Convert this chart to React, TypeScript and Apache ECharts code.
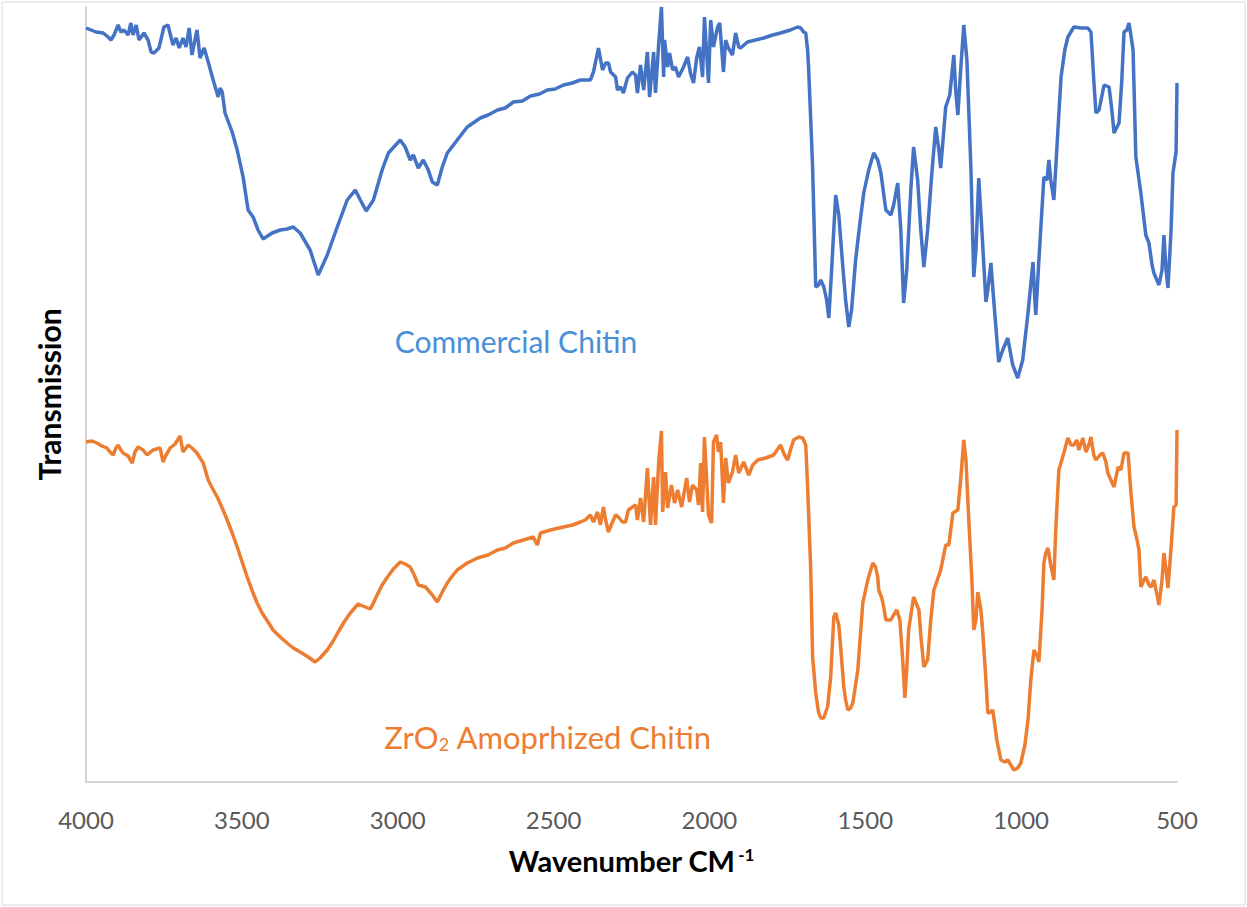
import React, { useEffect, useRef } from "react";
import * as echarts from "echarts";

// Wavenumber (cm-1), transmission (a.u.) pairs
const commercialChitin: [number, number][] = [
  [4000, 75.4], [3968, 75.0], [3945, 74.9], [3929, 74.5], [3920, 74.2], [3910, 74.7], [3897, 75.7], [3888, 75.0],
  [3878, 75.2], [3865, 74.7], [3856, 75.9], [3849, 74.7], [3839, 75.7], [3830, 74.2], [3814, 74.9], [3801, 74.2],
  [3791, 73.0], [3782, 72.9], [3766, 73.4], [3750, 75.5], [3737, 75.7], [3721, 73.7], [3711, 74.4], [3701, 73.4],
  [3689, 74.4], [3679, 73.5], [3669, 75.4], [3660, 72.7], [3644, 75.2], [3634, 72.4], [3621, 73.4], [3608, 72.0],
  [3592, 70.2], [3576, 68.5], [3570, 69.4], [3563, 69.0], [3554, 66.9], [3531, 65.0], [3515, 63.2], [3496, 60.5],
  [3480, 57.2], [3464, 56.5], [3448, 55.2], [3432, 54.3], [3403, 54.9], [3377, 55.2], [3355, 55.3], [3335, 55.5],
  [3313, 54.9], [3281, 53.2], [3255, 50.7], [3226, 52.7], [3194, 55.5], [3162, 58.2], [3136, 59.2], [3120, 58.2],
  [3101, 57.1], [3078, 58.2], [3050, 61.2], [3030, 62.9], [2992, 64.2], [2976, 63.5], [2960, 62.2], [2950, 62.7],
  [2934, 61.4], [2918, 62.2], [2902, 61.2], [2889, 60.0], [2873, 59.7], [2857, 61.5], [2841, 62.9], [2809, 64.2],
  [2777, 65.5], [2735, 66.4], [2710, 66.7], [2680, 67.2], [2655, 67.4], [2629, 68.0], [2600, 68.1], [2574, 68.6],
  [2545, 68.8], [2520, 69.2], [2495, 69.3], [2468, 69.7], [2440, 69.9], [2414, 70.2],
  [2382, 70.2], [2372, 71.0], [2356, 73.4], [2343, 71.2], [2333, 71.9], [2324, 71.9], [2317, 71.0], [2301, 70.5],
  [2295, 69.2], [2285, 69.5], [2276, 68.9], [2263, 70.4], [2247, 71.0], [2237, 70.7], [2231, 68.9], [2221, 71.7],
  [2211, 69.2], [2199, 73.0], [2192, 68.5], [2179, 73.0], [2173, 68.9], [2163, 73.7], [2154, 77.5], [2147, 70.5],
  [2144, 74.2], [2134, 71.5], [2128, 72.9], [2118, 71.2], [2109, 71.5], [2099, 70.5], [2083, 71.5], [2070, 72.5],
  [2061, 70.9], [2051, 69.9], [2041, 72.4], [2032, 73.5], [2022, 70.5], [2016, 76.5], [2003, 69.9], [1996, 76.2],
  [1987, 73.5], [1974, 75.5], [1967, 75.9], [1955, 71.0], [1948, 74.2], [1939, 73.4], [1926, 72.7], [1916, 74.9],
  [1906, 73.5], [1900, 73.4], [1878, 74.0], [1852, 74.2], [1826, 74.4], [1797, 74.7], [1772, 74.9], [1740, 75.2],
  [1717, 75.5], [1707, 75.4], [1698, 75.0], [1691, 74.9], [1685, 73.2], [1682, 71.5], [1675, 66.2], [1669, 61.5],
  [1659, 49.5], [1650, 49.7], [1643, 50.2], [1633, 49.5], [1624, 48.2], [1617, 46.4], [1608, 51.2], [1595, 58.7],
  [1585, 56.7], [1572, 51.5], [1563, 48.2], [1553, 45.5], [1544, 47.2], [1531, 52.2], [1518, 55.7], [1505, 58.9],
  [1489, 61.2], [1473, 62.9], [1460, 62.2], [1450, 60.9], [1434, 57.2], [1418, 56.7], [1409, 57.7], [1396, 59.9],
  [1386, 55.2], [1377, 47.9], [1367, 51.2], [1354, 59.2], [1345, 63.5], [1332, 60.2], [1322, 55.2], [1312, 51.5],
  [1300, 55.2], [1287, 60.7], [1274, 65.5], [1264, 63.2], [1258, 61.4], [1248, 65.2], [1242, 67.5], [1229, 68.7],
  [1216, 72.7], [1210, 69.2], [1203, 66.7], [1194, 71.2], [1184, 75.7], [1174, 72.2], [1161, 61.2], [1152, 50.5],
  [1145, 53.2], [1136, 60.4], [1126, 55.2], [1113, 48.0], [1107, 49.2], [1097, 51.9], [1088, 48.2], [1072, 42.0],
  [1059, 43.2], [1043, 44.4], [1027, 41.7], [1011, 40.4], [995, 42.2], [978, 46.9], [962, 52.0], [956, 48.2],
  [953, 46.7], [943, 52.2], [927, 60.5], [917, 60.2], [911, 62.2], [905, 60.2], [895, 58.2], [882, 65.2],
  [872, 70.5], [860, 73.2], [850, 74.5], [831, 75.5], [808, 75.4], [786, 75.4], [776, 75.0], [767, 70.2],
  [760, 66.9], [750, 67.2], [734, 69.7], [718, 69.5], [709, 67.2], [702, 64.9], [686, 65.9], [677, 70.2],
  [670, 75.0], [661, 75.2], [654, 75.9], [648, 74.7], [641, 73.2], [632, 62.5], [616, 58.9], [600, 54.7],
  [590, 53.9], [580, 51.7], [574, 50.9], [558, 49.7], [548, 51.2], [542, 54.7], [535, 51.2], [529, 49.4],
  [519, 55.2], [513, 60.9], [503, 63.0], [500, 69.9],
];

const zro2Chitin: [number, number][] = [
  [4000, 34.0], [3981, 34.1], [3965, 33.9], [3949, 33.6], [3933, 33.4], [3923, 33.0], [3913, 32.7], [3904, 33.4],
  [3897, 33.7], [3888, 33.2], [3881, 32.9], [3865, 32.6], [3852, 31.9], [3843, 33.0], [3833, 33.5], [3817, 33.2],
  [3804, 32.7], [3785, 33.2], [3762, 33.4], [3753, 32.0], [3743, 32.7], [3730, 33.4], [3714, 33.8], [3698, 34.6],
  [3689, 33.0], [3672, 33.7], [3660, 33.4], [3644, 32.9], [3624, 31.9], [3608, 30.2], [3595, 29.4], [3579, 28.5],
  [3563, 27.4], [3547, 26.2], [3531, 24.9], [3515, 23.5], [3499, 22.0], [3483, 20.5], [3464, 18.9], [3451, 17.9],
  [3435, 16.9], [3416, 16.0], [3400, 15.2], [3377, 14.5], [3355, 13.9], [3335, 13.4], [3313, 13.0], [3287, 12.5],
  [3265, 12.0], [3249, 12.4], [3226, 13.2], [3207, 14.1], [3191, 15.0], [3172, 16.0], [3152, 16.9], [3127, 17.8],
  [3104, 17.5], [3088, 17.3], [3078, 17.9], [3066, 18.7], [3050, 19.7], [3033, 20.5], [3014, 21.3], [2992, 22.0],
  [2976, 21.8], [2960, 21.5], [2947, 20.7], [2934, 19.7], [2911, 19.5], [2889, 18.7], [2873, 18.0], [2857, 19.0],
  [2841, 19.9], [2825, 20.6], [2809, 21.2], [2777, 21.9], [2744, 22.4], [2710, 22.7], [2680, 23.2], [2655, 23.4],
  [2629, 23.9], [2597, 24.2],
  [2565, 24.5], [2552, 23.7], [2542, 24.9], [2510, 25.2], [2468, 25.5], [2439, 25.7], [2414, 26.0], [2398, 26.2],
  [2382, 26.7], [2372, 26.0], [2359, 27.0], [2350, 25.7], [2340, 27.5], [2333, 26.2], [2324, 25.0], [2311, 26.0],
  [2301, 26.7], [2292, 26.5], [2279, 26.0], [2269, 26.0], [2260, 27.2], [2247, 27.5], [2237, 27.7], [2231, 26.2],
  [2221, 28.4], [2211, 26.0], [2199, 31.4], [2189, 25.7], [2179, 30.5], [2173, 25.7], [2163, 31.9], [2154, 35.1],
  [2150, 27.0], [2141, 31.0], [2134, 27.4], [2122, 29.7], [2112, 27.9], [2102, 29.2], [2089, 27.5], [2073, 30.4],
  [2064, 28.0], [2054, 29.7], [2041, 29.2], [2035, 27.7], [2028, 31.9], [2022, 27.0], [2016, 34.5], [2003, 26.7],
  [1993, 25.9], [1987, 34.0], [1977, 34.7], [1971, 33.0], [1964, 34.0], [1955, 27.9], [1948, 32.4], [1939, 29.9],
  [1926, 31.0], [1916, 32.7], [1906, 30.9], [1890, 32.0], [1874, 30.7], [1861, 31.7], [1845, 32.2], [1820, 32.4],
  [1794, 32.7], [1772, 33.7], [1759, 32.7], [1749, 32.2], [1740, 33.2], [1730, 34.2], [1714, 34.5], [1701, 34.4],
  [1691, 33.7], [1685, 29.5], [1675, 21.2], [1669, 12.5], [1659, 8.9], [1650, 7.0], [1643, 6.4], [1633, 6.4],
  [1627, 7.0], [1621, 7.5], [1611, 10.5], [1601, 16.5], [1595, 16.9], [1585, 15.7], [1579, 13.5], [1569, 9.5],
  [1563, 8.2], [1556, 7.2], [1547, 7.4], [1540, 7.9], [1524, 11.2], [1508, 17.9], [1492, 20.2], [1476, 21.9],
  [1467, 21.5], [1460, 20.5], [1457, 19.2], [1447, 18.4], [1441, 17.5], [1434, 16.2], [1418, 16.2], [1409, 16.7],
  [1399, 17.2], [1389, 16.2], [1380, 12.2], [1373, 8.4], [1367, 11.2], [1361, 15.2], [1345, 18.5], [1328, 17.2],
  [1322, 14.7], [1312, 11.5], [1300, 12.2], [1290, 16.2], [1280, 19.2], [1258, 21.2], [1242, 23.7], [1232, 23.7],
  [1219, 26.9], [1203, 27.2], [1194, 30.2], [1184, 34.2], [1177, 32.2], [1168, 26.2], [1158, 20.2], [1152, 15.2],
  [1145, 16.2], [1139, 19.0], [1129, 17.2], [1123, 14.9], [1113, 10.2], [1107, 6.9], [1097, 7.0], [1091, 7.2],
  [1078, 4.2], [1065, 2.2], [1052, 2.0], [1043, 2.2], [1033, 1.7], [1023, 1.2], [1011, 1.4], [1001, 1.9],
  [988, 3.7], [978, 6.2], [969, 10.2], [959, 13.2], [950, 12.7], [943, 12.0], [933, 17.2], [927, 21.9],
  [921, 22.9], [914, 23.4], [905, 21.7], [895, 20.2], [889, 25.2], [879, 31.2], [863, 32.9], [850, 34.4],
  [840, 33.7], [831, 33.7], [821, 34.2], [815, 33.2], [802, 34.4], [792, 33.0], [783, 33.7], [776, 34.5],
  [767, 32.7], [760, 32.2], [747, 32.7], [738, 32.9], [728, 32.0], [722, 30.9], [712, 30.2], [702, 29.5],
  [689, 31.5], [680, 31.2], [670, 32.9], [657, 32.9], [648, 29.0], [638, 25.5], [628, 24.2], [622, 23.2],
  [616, 19.5], [606, 20.2], [600, 20.5], [590, 19.7], [583, 19.5], [574, 20.2], [564, 18.7], [558, 17.7],
  [548, 20.2], [542, 22.9], [535, 21.2], [529, 19.4], [519, 23.4], [510, 27.5], [503, 27.7], [500, 35.2],
];

const xTickMin = 500;
const xTickMax = 4000;
const xTickStep = 500;

const seriesNames = ["Commercial Chitin", "ZrO2 Amoprhized Chitin"];
const FONT = "Lato, 'Open Sans', sans-serif";

export default function App() {
  const ref = useRef<HTMLDivElement>(null);

  useEffect(() => {
    if (!ref.current) return;
    const chart = echarts.init(ref.current, undefined, { renderer: "svg" });
    chart.setOption({
      animation: false,
      backgroundColor: "#ffffff",
      grid: { left: 86, right: 70, top: 7, bottom: 125, containLabel: false },
      xAxis: {
        type: "value",
        min: xTickMin,
        max: xTickMax,
        interval: xTickStep,
        inverse: true,
        axisLine: { show: true, lineStyle: { color: "#c6c6c6", width: 1.5 } },
        axisTick: { show: false },
        splitLine: { show: false },
        axisLabel: {
          color: "#595959",
          fontSize: 24,
          fontFamily: FONT,
          margin: 25,
          formatter: (v: number) => String(v),
        },
        name: "{t|Wavenumber CM}{s|-1}",
        nameLocation: "middle",
        nameGap: 64,
        nameTextStyle: {
          rich: {
            t: { fontSize: 29, fontWeight: "bold", color: "#000", fontFamily: FONT, padding: [0, 3, 0, 0] },
            s: { fontSize: 17, fontWeight: "bold", color: "#000", fontFamily: FONT, verticalAlign: "top" },
          },
        },
      },
      yAxis: {
        type: "value",
        min: 0,
        max: 77.5,
        axisLine: { show: true, lineStyle: { color: "#c6c6c6", width: 1.5 } },
        axisTick: { show: false },
        axisLabel: { show: false },
        splitLine: { show: false },
        name: "Transmission",
        nameLocation: "middle",
        nameGap: 22,
        nameTextStyle: { fontSize: 30, fontWeight: "bold", color: "#000", fontFamily: FONT },
      },
      series: [
        {
          name: seriesNames[0],
          type: "line",
          data: commercialChitin,
          showSymbol: false,
          clip: false,
          lineStyle: { color: "#4472C4", width: 3.5 },
          itemStyle: { color: "#4472C4" },
        },
        {
          name: seriesNames[1],
          type: "line",
          data: zro2Chitin,
          showSymbol: false,
          clip: false,
          lineStyle: { color: "#ED7D31", width: 3.5 },
          itemStyle: { color: "#ED7D31" },
        },
      ],
      graphic: [
        {
          type: "rect",
          shape: { x: 2, y: 2, width: 1243, height: 903 },
          style: { fill: "none", stroke: "#d9d9d9", lineWidth: 1 },
          silent: true,
        },
        {
          type: "text",
          x: 516,
          y: 341,
          style: {
            text: "Commercial Chitin",
            fill: "#4A8FDA",
            fontSize: 30,
            fontFamily: FONT,
            align: "center",
            verticalAlign: "middle",
          },
        },
        {
          type: "text",
          x: 548,
          y: 737,
          style: {
            text: "{a|ZrO}{b|2}{a| Amoprhized Chitin}",
            align: "center",
            verticalAlign: "middle",
            rich: {
              a: { fontSize: 31, fontFamily: FONT, fill: "#ED7D31", color: "#ED7D31" },
              b: { fontSize: 18, fontFamily: FONT, fill: "#ED7D31", color: "#ED7D31", verticalAlign: "bottom" },
            },
          },
        },
      ],
    });
    return () => chart.dispose();
  }, []);

  return (
    <div
      ref={ref}
      style={{ position: "absolute", left: 0, top: 0, width: 1247, height: 907, background: "#fff" }}
    />
  );
}
